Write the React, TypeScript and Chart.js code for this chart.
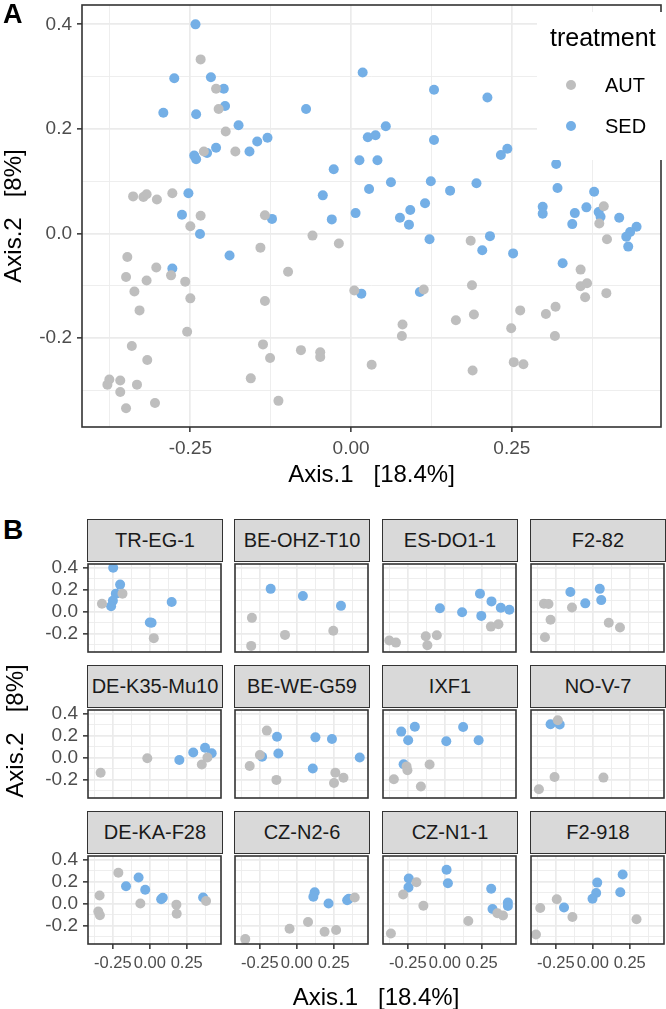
import React, { useEffect, useRef } from 'react';
import { Chart, registerables } from 'chart.js';

Chart.register(...registerables);

type Pt = [number, number];

const FONT = "'Liberation Sans', Arial, Helvetica, sans-serif";

// ---------- legend / treatments ----------
const legendTitle = 'treatment';
const treatments = ['AUT', 'SED'];
const treatmentColors = ['#BEBEBE', '#74AFE6'];

// ---------- axes ----------
const xRange = [-0.4185, 0.482];
const yRange = [-0.37, 0.437];
const xMajorTicks = [-0.25, 0, 0.25];
const xMajorLabels = ['-0.25', '0.00', '0.25'];
const xMinorTicks = [-0.375, -0.125, 0.125, 0.375];
const yMajorTicks = [-0.2, 0, 0.2, 0.4];
const yMajorLabels = ['-0.2', '0.0', '0.2', '0.4'];
const yMinorTicks = [-0.3, -0.1, 0.1, 0.3];
const xAxisTitle = 'Axis.1   [18.4%]';
const yAxisTitle = 'Axis.2   [8%]';

// ---------- panel A data ----------
const panelA_AUT: Pt[] = [
  [-0.234, 0.333], [-0.21, 0.277], [-0.206, 0.238], [-0.195, 0.195], [-0.18, 0.157], [-0.229, 0.157],
  [-0.339, 0.071], [-0.323, 0.07], [-0.318, 0.075], [-0.302, 0.065], [-0.278, 0.077], [-0.234, 0.034],
  [-0.25, 0.014], [-0.134, 0.035], [-0.06, -0.004], [-0.141, -0.027], [-0.019, -0.019],
  [-0.348, -0.045], [-0.303, -0.065], [-0.35, -0.083], [-0.318, -0.09], [-0.28, -0.08], [-0.258, -0.092],
  [-0.337, -0.111], [-0.25, -0.124], [-0.329, -0.147], [-0.098, -0.073], [-0.134, -0.129], [-0.255, -0.188],
  [-0.341, -0.215], [-0.317, -0.242], [-0.137, -0.212], [-0.126, -0.238], [-0.078, -0.223], [-0.048, -0.227],
  [-0.048, -0.236], [-0.376, -0.279], [-0.379, -0.289], [-0.359, -0.281], [-0.333, -0.289], [-0.359, -0.303],
  [-0.35, -0.334], [-0.305, -0.324], [-0.156, -0.277], [-0.113, -0.32],
  [0.393, 0.052], [0.386, 0.019], [0.398, -0.011], [0.186, -0.014],
  [0.357, -0.069], [0.357, -0.101], [0.367, -0.095], [0.364, -0.122], [0.397, -0.114], [0.005, -0.109],
  [0.113, -0.107], [0.188, -0.099], [0.08, -0.174], [0.079, -0.196], [0.163, -0.166], [0.191, -0.155],
  [0.249, -0.181], [0.263, -0.147], [0.303, -0.154], [0.318, -0.14], [0.317, -0.196], [0.032, -0.251],
  [0.189, -0.262], [0.253, -0.246], [0.268, -0.25],
];
const panelA_SED: Pt[] = [
  [-0.242, 0.4], [-0.275, 0.297], [-0.218, 0.299], [-0.198, 0.277], [-0.196, 0.244], [-0.292, 0.231],
  [-0.241, 0.228], [-0.175, 0.207], [-0.13, 0.183], [-0.146, 0.176], [-0.158, 0.157], [-0.21, 0.164],
  [-0.224, 0.154], [-0.244, 0.149], [-0.241, 0.142], [-0.07, 0.238], [-0.027, 0.123], [-0.044, 0.073],
  [-0.253, 0.077], [-0.263, 0.036], [-0.235, -0.001], [-0.123, 0.028], [-0.03, 0.027], [-0.278, -0.067],
  [-0.189, -0.042],
  [0.018, 0.308], [0.129, 0.275], [0.212, 0.26], [0.054, 0.205], [0.026, 0.184], [0.038, 0.188],
  [0.129, 0.179], [0.233, 0.15], [0.243, 0.162], [0.013, 0.14], [0.041, 0.14], [0.319, 0.133],
  [0.028, 0.085], [0.062, 0.098], [0.124, 0.1], [0.195, 0.096], [0.154, 0.082], [0.321, 0.087],
  [0.378, 0.08], [0.007, 0.039], [0.076, 0.03], [0.092, 0.045], [0.09, 0.017], [0.115, 0.058],
  [0.298, 0.051], [0.298, 0.038], [0.348, 0.039], [0.344, 0.018], [0.366, 0.05], [0.385, 0.041],
  [0.388, 0.032], [0.417, 0.03], [0.444, 0.013], [0.434, 0.003], [0.428, -0.006], [0.431, -0.025],
  [0.122, -0.011], [0.216, -0.005], [0.204, -0.032], [0.252, -0.038], [0.329, -0.057], [0.016, -0.115],
  [0.107, -0.112],
];

// ---------- panel B data (facets) ----------
const facetNames = [
  'TR-EG-1', 'BE-OHZ-T10', 'ES-DO1-1', 'F2-82',
  'DE-K35-Mu10', 'BE-WE-G59', 'IXF1', 'NO-V-7',
  'DE-KA-F28', 'CZ-N2-6', 'CZ-N1-1', 'F2-918',
];

const trEg1_AUT: Pt[] = [[-0.324, 0.073], [-0.185, 0.165], [0.027, -0.243]];
const trEg1_SED: Pt[] = [[-0.248, 0.402], [-0.201, 0.248], [-0.23, 0.165], [-0.25, 0.1], [-0.262, 0.05], [0.148, 0.088], [0.0, -0.1], [0.012, -0.102]];
const beOhz_AUT: Pt[] = [[-0.304, -0.057], [-0.08, -0.213], [0.247, -0.175], [-0.309, -0.314]];
const beOhz_SED: Pt[] = [[-0.177, 0.209], [0.041, 0.144], [0.299, 0.053]];
const esDo_AUT: Pt[] = [[0.312, -0.137], [0.363, -0.115], [-0.129, -0.225], [-0.054, -0.216], [-0.118, -0.308], [-0.376, -0.264], [-0.331, -0.284]];
const esDo_SED: Pt[] = [[0.238, 0.165], [0.316, 0.094], [0.379, 0.035], [0.437, 0.017], [-0.033, 0.032], [0.117, -0.006], [0.247, -0.039]];
const f282_AUT: Pt[] = [[-0.331, 0.073], [-0.3, 0.07], [-0.141, 0.038], [-0.286, -0.075], [-0.324, -0.234], [0.108, -0.101], [0.184, -0.146]];
const f282_SED: Pt[] = [[-0.152, 0.18], [0.047, 0.209], [-0.051, 0.076], [0.057, 0.106]];
const deK35_AUT: Pt[] = [[-0.333, -0.139], [-0.017, -0.006], [0.352, -0.062], [0.39, 0.002]];
const deK35_SED: Pt[] = [[0.2, -0.021], [0.294, 0.047], [0.374, 0.091], [0.419, 0.041]];
const beWe_AUT: Pt[] = [[-0.203, 0.248], [-0.25, 0.024], [-0.319, -0.077], [-0.138, -0.204], [0.261, -0.139], [0.316, -0.184], [0.252, -0.233]];
const beWe_SED: Pt[] = [[-0.134, 0.192], [0.126, 0.186], [0.238, 0.171], [-0.125, 0.038], [-0.235, 0.009], [0.108, -0.1], [0.426, 0.002]];
const ixf1_AUT: Pt[] = [[-0.259, -0.08], [-0.253, -0.115], [-0.103, -0.062], [-0.345, -0.198], [-0.162, -0.264]];
const ixf1_SED: Pt[] = [[-0.203, 0.284], [-0.295, 0.239], [-0.248, 0.159], [0.124, 0.281], [0.01, 0.151], [0.229, 0.159], [-0.279, -0.06]];
const noV7_AUT: Pt[] = [[-0.237, 0.343], [-0.259, -0.177], [0.072, -0.183], [-0.365, -0.29]];
const noV7_SED: Pt[] = [[-0.286, 0.307], [-0.224, 0.304]];
const deKa_AUT: Pt[] = [[-0.213, 0.284], [-0.34, 0.075], [-0.349, -0.073], [-0.338, -0.107], [-0.064, 0.001], [0.18, -0.009], [0.182, -0.092], [0.381, 0.025]];
const deKa_SED: Pt[] = [[-0.076, 0.24], [-0.161, 0.16], [-0.031, 0.128], [0.077, 0.04], [0.088, 0.054], [0.361, 0.057]];
const czN26_AUT: Pt[] = [[0.392, 0.057], [0.076, -0.168], [-0.049, -0.23], [0.188, -0.257], [0.266, -0.242], [-0.349, -0.325]];
const czN26_SED: Pt[] = [[0.121, 0.104], [0.112, 0.063], [0.215, 0.001], [0.341, 0.031], [0.352, 0.045]];
const czN11_AUT: Pt[] = [[-0.192, 0.196], [-0.282, 0.084], [-0.145, -0.02], [0.159, -0.159], [0.356, -0.088], [0.394, -0.108], [-0.365, -0.274]];
const czN11_SED: Pt[] = [[0.012, 0.311], [0.021, 0.187], [-0.244, 0.231], [-0.246, 0.149], [0.314, 0.137], [0.323, -0.049], [0.427, 0.01], [0.427, -0.022]];
const f2918_AUT: Pt[] = [[-0.244, 0.04], [-0.356, -0.04], [-0.138, -0.123], [0.296, -0.143], [-0.385, -0.283]];
const f2918_SED: Pt[] = [[0.202, 0.267], [0.186, 0.104], [0.03, 0.193], [0.023, 0.097], [-0.002, 0.045], [-0.195, -0.035]];

const facetAUT: Pt[][] = [trEg1_AUT, beOhz_AUT, esDo_AUT, f282_AUT, deK35_AUT, beWe_AUT, ixf1_AUT, noV7_AUT, deKa_AUT, czN26_AUT, czN11_AUT, f2918_AUT];
const facetSED: Pt[][] = [trEg1_SED, beOhz_SED, esDo_SED, f282_SED, deK35_SED, beWe_SED, ixf1_SED, noV7_SED, deKa_SED, czN26_SED, czN11_SED, f2918_SED];

// ---------- layout ----------
const facetColLefts = [88, 235, 383, 531];
const facetStripTops = [519, 665, 811];
const STRIP_H = 42;
const FACET_W = 134;
const FACET_H = 91;

const near = (a: number, b: number) => Math.abs(a - b) < 1e-9;
const isXMajor = (v: number) => xMajorTicks.some((t) => near(t, v));
const isYMajor = (v: number) => yMajorTicks.some((t) => near(t, v));

const framePlugin = {
  id: 'panelFrame',
  afterDatasetsDraw(chart: any) {
    const { ctx, chartArea } = chart;
    ctx.save();
    ctx.strokeStyle = '#333333';
    ctx.lineWidth = 1.6;
    ctx.strokeRect(chartArea.left, chartArea.top, chartArea.right - chartArea.left, chartArea.bottom - chartArea.top);
    ctx.restore();
  },
};

const legendPlugin = {
  id: 'treatmentLegend',
  afterDraw(chart: any) {
    const { ctx } = chart;
    ctx.save();
    ctx.fillStyle = '#FFFFFF';
    ctx.fillRect(537, 12, 129, 148);
    ctx.fillStyle = '#000000';
    ctx.textBaseline = 'middle';
    ctx.textAlign = 'left';
    ctx.font = `25px ${FONT}`;
    ctx.fillText(legendTitle, 550, 39);
    ctx.font = `20px ${FONT}`;
    treatments.forEach((t, i) => {
      const cy = 85 + i * 41;
      ctx.beginPath();
      ctx.fillStyle = treatmentColors[i];
      ctx.arc(571, cy, 5, 0, Math.PI * 2);
      ctx.fill();
      ctx.fillStyle = '#000000';
      ctx.fillText(t, 605, cy + 1);
    });
    ctx.restore();
  },
};

interface PanelProps {
  aut: Pt[];
  sed: Pt[];
  left: number;
  top: number;
  w: number;
  h: number;
  areaLeft: number;
  areaTop: number;
  areaW: number;
  areaH: number;
  showX: boolean;
  showY: boolean;
  xTickSize: number;
  yTickSize: number;
  xTitle?: string;
  yTitle?: string;
  legend?: boolean;
}

function buildConfig(p: PanelProps): any {
  const ds = [p.aut, p.sed].map((pts, i) => ({
    label: treatments[i],
    data: pts.map(([x, y]) => ({ x, y })),
    backgroundColor: treatmentColors[i],
    borderWidth: 0,
    pointRadius: 5,
    pointHoverRadius: 5,
    clip: 0,
  }));
  return {
    type: 'scatter',
    data: { datasets: ds },
    plugins: p.legend ? [framePlugin, legendPlugin] : [framePlugin],
    options: {
      animation: false,
      responsive: false,
      devicePixelRatio: 1,
      events: [],
      layout: { padding: { left: 0, top: p.areaTop, right: p.w - p.areaLeft - p.areaW, bottom: 0 } },
      plugins: { legend: { display: false }, tooltip: { enabled: false }, title: { display: false } },
      scales: {
        x: {
          type: 'linear',
          min: xRange[0],
          max: xRange[1],
          afterBuildTicks: (s: any) => {
            s.ticks = [...xMinorTicks, ...xMajorTicks].sort((a, b) => a - b).map((v) => ({ value: v }));
          },
          afterFit: (s: any) => {
            s.height = p.h - p.areaTop - p.areaH;
            s.paddingLeft = 0; s.paddingRight = 0; s.paddingTop = 0; s.paddingBottom = 0;
          },
          ticks: {
            autoSkip: false, maxRotation: 0, minRotation: 0, padding: 5,
            color: '#4D4D4D', font: { size: p.xTickSize, family: FONT },
            callback: (v: number) => {
              const i = xMajorTicks.findIndex((t) => near(t, v));
              return i >= 0 && p.showX ? xMajorLabels[i] : '';
            },
          },
          grid: {
            color: '#EBEBEB',
            lineWidth: (c: any) => (isXMajor(c.tick.value) ? 1.7 : 0.85),
            drawTicks: true, tickLength: 5, tickWidth: 1.5,
            tickColor: (c: any) => (p.showX && isXMajor(c.tick.value) ? '#333333' : 'rgba(0,0,0,0)'),
          },
          border: { display: false },
          title: {
            display: !!p.xTitle, text: p.xTitle || '', color: '#000000',
            font: { size: 24, family: FONT }, padding: { top: 0, bottom: 0 },
          },
        },
        y: {
          type: 'linear',
          min: yRange[0],
          max: yRange[1],
          afterBuildTicks: (s: any) => {
            s.ticks = [...yMinorTicks, ...yMajorTicks].sort((a, b) => a - b).map((v) => ({ value: v }));
          },
          afterFit: (s: any) => {
            s.width = p.areaLeft;
            s.paddingLeft = 0; s.paddingRight = 0; s.paddingTop = 0; s.paddingBottom = 0;
          },
          ticks: {
            autoSkip: false, padding: 5, color: '#4D4D4D', font: { size: p.yTickSize, family: FONT },
            callback: (v: number) => {
              const i = yMajorTicks.findIndex((t) => near(t, v));
              return i >= 0 && p.showY ? yMajorLabels[i] : '';
            },
          },
          grid: {
            color: '#EBEBEB',
            lineWidth: (c: any) => (isYMajor(c.tick.value) ? 1.7 : 0.85),
            drawTicks: true, tickLength: 5, tickWidth: 1.5,
            tickColor: (c: any) => (p.showY && isYMajor(c.tick.value) ? '#333333' : 'rgba(0,0,0,0)'),
          },
          border: { display: false },
          title: {
            display: !!p.yTitle, text: p.yTitle || '', color: '#000000',
            font: { size: 24, family: FONT }, padding: { top: 0, bottom: 0 },
          },
        },
      },
    },
  };
}

function ScatterPanel(props: PanelProps) {
  const ref = useRef<HTMLCanvasElement>(null);
  useEffect(() => {
    if (!ref.current) return;
    const chart = new Chart(ref.current, buildConfig(props));
    return () => chart.destroy();
  }, []);
  return (
    <canvas
      ref={ref}
      width={props.w}
      height={props.h}
      style={{ position: 'absolute', left: props.left, top: props.top, width: props.w, height: props.h }}
    />
  );
}

export default function App() {
  const facetCanvasPadL = 60;
  const facetCanvasPadT = 2;
  const facetCanvasPadR = 4;
  const facetCanvasPadB = 40;
  return (
    <div style={{ position: 'absolute', left: 0, top: 0, width: 666, height: 1009, background: '#FFFFFF', overflow: 'hidden', fontFamily: FONT }}>
      <ScatterPanel
        aut={panelA_AUT}
        sed={panelA_SED}
        left={0}
        top={0}
        w={666}
        h={490}
        areaLeft={82}
        areaTop={1}
        areaW={581}
        areaH={426}
        showX
        showY
        xTickSize={19}
        yTickSize={19}
        xTitle={xAxisTitle}
        yTitle={yAxisTitle}
        legend
      />
      {facetNames.map((name, i) => {
        const col = i % 4;
        const row = Math.floor(i / 4);
        const pl = facetColLefts[col];
        const st = facetStripTops[row];
        const pt = st + STRIP_H;
        return (
          <React.Fragment key={name}>
            <div
              style={{
                position: 'absolute', left: pl - 0.8, top: st, width: FACET_W + 1.6, height: STRIP_H + 0.8,
                boxSizing: 'border-box', background: '#D9D9D9', border: '1.6px solid #333333',
                display: 'flex', alignItems: 'center', justifyContent: 'center',
                fontSize: 20, color: '#1A1A1A', whiteSpace: 'nowrap', overflow: 'hidden',
              }}
            >
              {name}
            </div>
            <ScatterPanel
              aut={facetAUT[i]}
              sed={facetSED[i]}
              left={pl - facetCanvasPadL}
              top={pt - facetCanvasPadT}
              w={facetCanvasPadL + FACET_W + facetCanvasPadR}
              h={facetCanvasPadT + FACET_H + facetCanvasPadB}
              areaLeft={facetCanvasPadL}
              areaTop={facetCanvasPadT}
              areaW={FACET_W}
              areaH={FACET_H}
              showX={row === 2}
              showY={col === 0}
              xTickSize={16.5}
              yTickSize={19}
            />
          </React.Fragment>
        );
      })}
      <div style={{ position: 'absolute', left: 3, top: 1, fontSize: 27, fontWeight: 'bold', lineHeight: '27px', color: '#000' }}>A</div>
      <div style={{ position: 'absolute', left: 3, top: 516, fontSize: 28, fontWeight: 'bold', lineHeight: '28px', color: '#000' }}>B</div>
      <div
        style={{
          position: 'absolute', left: 15 - 150, top: 731 - 14, width: 300, height: 28, lineHeight: '28px',
          textAlign: 'center', fontSize: 24, color: '#000', transform: 'rotate(-90deg)', whiteSpace: 'pre',
        }}
      >
        {yAxisTitle}
      </div>
      <div
        style={{
          position: 'absolute', left: 376 - 200, top: 997 - 14, width: 400, height: 28, lineHeight: '28px',
          textAlign: 'center', fontSize: 24, color: '#000', whiteSpace: 'pre',
        }}
      >
        {xAxisTitle}
      </div>
    </div>
  );
}
